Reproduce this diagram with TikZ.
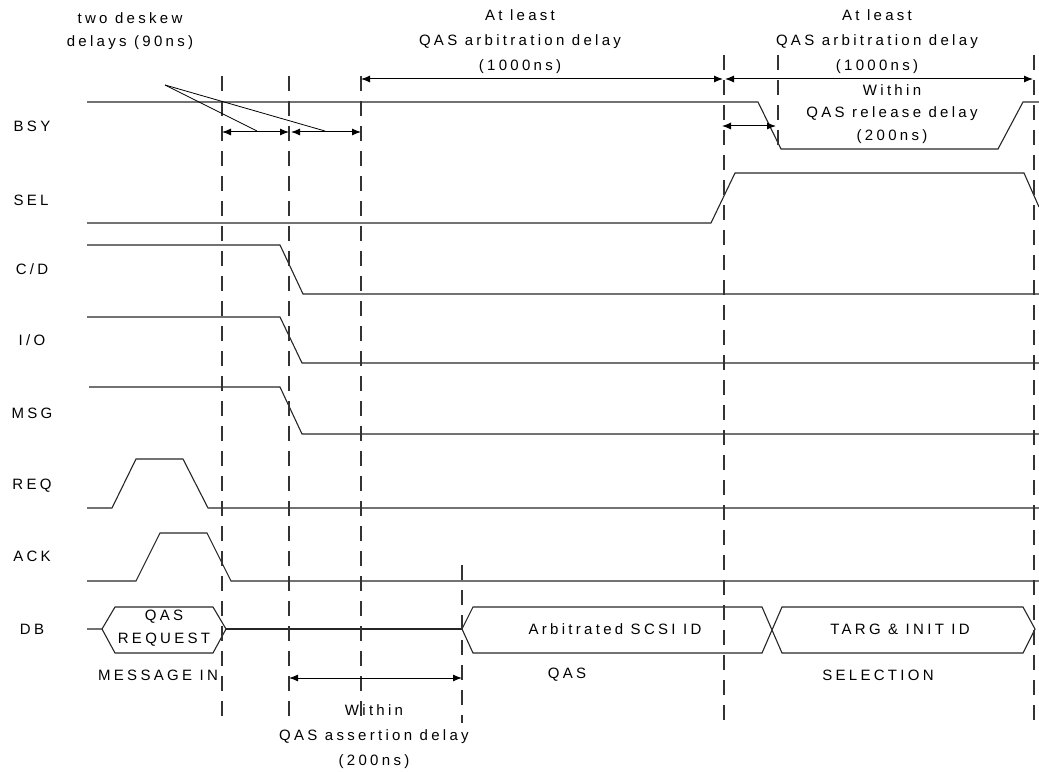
\documentclass[tikz,border=0pt]{standalone}
\usepackage{fontspec}
\newfontfamily\wavefont[LetterSpace=22]{Liberation Sans}
\usepackage{tikz}
\usetikzlibrary{arrows.meta, calc}

\begin{document}
\begin{tikzpicture}[x=1pt, y=-1pt,
    % signal names on the left
    siglabel/.style={inner sep=0pt, font=\wavefont\fontsize{15}{25}\selectfont},
    % notes above/below the waves
    note/.style={inner sep=0pt, align=center, font=\wavefont\fontsize{15}{25}\selectfont},
    tightnote/.style={note, font=\wavefont\fontsize{15}{22.5}\selectfont},
    % waveforms and bus
    wave/.style={line width=1.1pt, black!85, line join=miter},
    % dashed timing markers
    marker/.style={line width=1.1pt, black!80, dash pattern=on 15pt off 10pt},
    timing/.style={{Latex[length=9pt,width=7pt]}-{Latex[length=9pt,width=7pt]}, line width=1pt},
    leader/.style={line width=0.8pt}
]
\useasboundingbox (0,0) rectangle (1039,773);

%-------- SIGNAL NAMES --------
\node[siglabel] (bsy) at (32,126) {BSY};
\node[siglabel] (sel) at (31,200) {SEL};
\node[siglabel] (cd)  at (32,269) {C/D};
\node[siglabel] (io)  at (32,340) {I/O};
\node[siglabel] (msg) at (32,413) {MSG};
\node[siglabel] (req) at (32,486) {REQ};
\node[siglabel] (ack) at (32,556) {ACK};
\node[siglabel] (db)  at (32,629) {DB};

%-------- WAVES --------
\draw[wave] (87,102) -- (758,102) -- (781,149) -- (998,149) -- (1023,102) -- (1039,102);
\draw[wave] (87,223) -- (711,223) -- (735,173) -- (1024,173) -- (1039,207);
\draw[wave] (87,245) -- (280,245) -- (303,294) -- (1039,294);
\draw[wave] (87,317) -- (280,317) -- (302,363) -- (1039,363);
\draw[wave] (89,387) -- (280,387) -- (302,434) -- (1039,434);
\draw[wave] (87,508) -- (112,508) -- (136,459) -- (183,459) -- (208,508) -- (1039,508);
\draw[wave] (87,581) -- (136,581) -- (160,533) -- (207,533) -- (231,581) -- (1039,581);

%-------- DATA BUS --------
\draw[wave] (87,629) -- (102,629) -- (115,607) -- (213,607) -- (226,629) -- (213,653)
    -- (115,653) -- (102,629);
\draw[wave] (226,629) -- (462,629);
\draw[wave] (462,629) -- (473,607) -- (762,607) -- (782,653) -- (1023,653) -- (1035,629)
    -- (1023,607) -- (782,607) -- (762,653) -- (473,653) -- cycle;

\node[note] (qasreq) at (164,628) {QAS\\[-2pt]REQUEST};
\node[note] (arbid)  at (615,629) {Arbitrated SCSI ID};
\node[note] (targid) at (900,629) {TARG \& INIT ID};

%-------- PHASES --------
\node[note] (msgin)  at (158,675) {MESSAGE IN};
\node[note] (qasph)  at (567,675) {QAS};
\node[note] (selph)  at (878,675) {SELECTION};

%-------- TIMING MARKERS --------
\draw[marker] (222,76)  -- (222,723);
\draw[marker] (289,76)  -- (289,723);
\draw[marker] (361,76)  -- (361,723);
\draw[marker] (462,565) -- (462,723);
\draw[marker] (724,55)  -- (724,723);
\draw[marker] (778,55)  -- (778,145);
\draw[marker] (1034,55) -- (1034,723);

%-------- DELAYS --------
\coordinate (dska) at (222,132);
\coordinate (dskb) at (289,132);
\coordinate (dskc) at (291,132);
\coordinate (dskd) at (361,132);
\coordinate (arba) at (361,79);
\coordinate (arbb) at (723,79);
\coordinate (arbc) at (725,79);
\coordinate (arbd) at (1033,79);
\coordinate (rela) at (722,126);
\coordinate (relb) at (776,126);
\coordinate (asra) at (289,678);
\coordinate (asrb) at (462,678);

\draw[timing] (dska) -- (dskb);
\draw[timing] (dskc) -- (dskd);
\draw[timing] (arba) -- (arbb);
\draw[timing] (arbc) -- (arbd);
\draw[timing] (rela) -- (relb);
\draw[timing] (asra) -- (asrb);

\node[tightnote] (deskew) at (130,31) {two deskew\\delays (90ns)};
\coordinate (leadfrom) at (165,85);
\coordinate (leadto1)  at (257,131);
\coordinate (leadto2)  at (325,131);
\draw[leader] (leadfrom) -- (leadto1);
\draw[leader] (leadfrom) -- (leadto2);

\node[note] (arbnote1) at (520,42) {At least\\QAS arbitration delay\\(1000ns)};
\node[note] (arbnote2) at (877,42) {At least\\QAS arbitration delay\\(1000ns)};
\node[tightnote] (relnote) at (892,114) {Within\\QAS release delay\\(200ns)};
\node[note] (asrnote)  at (374,737) {Within\\QAS assertion delay\\(200ns)};

\end{tikzpicture}
\end{document}
